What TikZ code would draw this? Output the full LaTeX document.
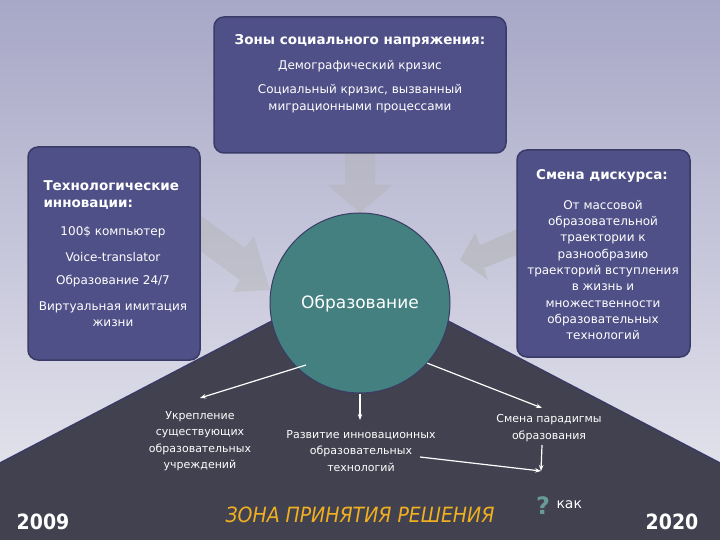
\documentclass[tikz,border=0pt]{standalone}
\usepackage{fontspec}
\setmainfont{DejaVu Sans}
\newfontfamily\condf{DejaVu Sans Condensed}
\usetikzlibrary{arrows.meta,shadows}
\definecolor{bgtop}{HTML}{A7A7C7}
\definecolor{bgbot}{HTML}{E2E2EC}
\definecolor{dark}{HTML}{41414F}
\definecolor{boxc}{HTML}{4F5087}
\definecolor{boxe}{HTML}{3A3B66}
\definecolor{teal}{HTML}{43807F}
\definecolor{ylw}{HTML}{F0B020}
\begin{document}
\begin{tikzpicture}[x=1pt,y=-1pt,
  box/.style={draw=boxe,line width=1.5pt,fill=boxc,rounded corners=10pt},
  wt/.style={text=white,font=\fontsize{12}{16}\selectfont,align=center},
  wa/.style={draw=white,line width=1.2pt,-{Stealth[length=6pt]}},
  ga/.style={fill=gray!60,opacity=0.4}]
\useasboundingbox (0,0) rectangle (720,540);
\shade[top color=bgtop,bottom color=bgbot] (0,0) rectangle (720,470);
\fill[dark] (0,463) -- (360,275) -- (720,463) -- (720,540) -- (0,540) -- cycle;
\draw[boxe,line width=1.5pt] (0,463) -- (360,275) -- (720,463);
% gray arrows
\fill[ga] (345,150) -- (375,150) -- (375,185) -- (392,185) -- (360,213) -- (328,185) -- (345,185) -- cycle;
\fill[ga] (200,215) -- (245,248) -- (254,236) -- (270,290) -- (233,292) -- (240,280) -- (195,247) -- cycle;
\fill[ga,opacity=0.5] (520,228) -- (480,245) -- (475,233) -- (460,260) -- (488,280) -- (484,268) -- (524,252) -- cycle;
% boxes
\draw[box] (214,17) rectangle (506,153);
\draw[box] (28,147) rectangle (200,360);
\draw[box] (517,150) rectangle (690,357);
\node[circle,draw=boxe,line width=1pt,fill=teal,minimum size=180pt,inner sep=0pt] (c) at (360,303) {};
\node[text=white,font=\fontsize{17}{19}\selectfont] (ct) at (360,304) {Образование};
% top text
\node[wt,font=\bfseries\fontsize{13.5}{16}\selectfont] (t1) at (360,41) {Зоны социального напряжения:};
\node[wt] (t2) at (360,66) {Демографический кризис};
\node[wt,font=\fontsize{12}{17}\selectfont] (t3) at (360,99) {Социальный кризис, вызванный\\миграционными процессами};
% left
\node[wt,align=left,anchor=west,font=\bfseries\fontsize{13.5}{17}\selectfont] (l1) at (40,195) {Технологические\\инновации:};
\node[wt] (l2) at (113,232) {100\$ компьютер};
\node[wt] (l3) at (113,257) {Voice-translator};
\node[wt] (l4) at (113,281) {Образование 24/7};
\node[wt] (l5) at (113,314) {Виртуальная имитация\\жизни};
% right
\node[wt,font=\bfseries\fontsize{13.5}{16}\selectfont] (r1) at (602,176) {Смена дискурса:};
\node[wt,font=\fontsize{12}{16.3}\selectfont] (r2) at (603,270) {От массовой\\образовательной\\траектории к\\разнообразию\\траекторий вступления\\в жизнь и\\множественности\\образовательных\\технологий};
% bottom texts
\node[wt,font=\fontsize{11}{16.5}\selectfont] (b1) at (200,441) {Укрепление\\существующих\\образовательных\\учреждений};
\node[wt,font=\fontsize{11}{16.5}\selectfont] (b2) at (361,451) {Развитие инновационных\\образовательных\\технологий};
\node[wt,font=\fontsize{11}{16.5}\selectfont] (b3) at (549,428) {Смена парадигмы\\образования};
\coordinate (p1) at (200,398);
\coordinate (p2) at (360,420);
\coordinate (p3) at (542,408);
\coordinate (q) at (541,471);
\coordinate (q0) at (420,457);
\coordinate (q1) at (542,445);
\draw[wa] (c.-135) ++(10,-2) -- (p1);
\draw[wa] (c.south) -- (p2);
\draw[wa] (c.-40) ++(-2,2) -- (p3);
\draw[wa] (q0) -- (q);
\draw[wa] (q1) -- (q);
\node[text=teal!80!white,font=\bfseries\fontsize{24}{24}\selectfont] (qm) at (543,506) {?};
\node[text=white,font=\fontsize{14}{16}\selectfont,anchor=west] (kak) at (553,505) {как};
\node[text=ylw,font=\condf\itshape\fontsize{21}{22}\selectfont] (z) at (360,515) {ЗОНА ПРИНЯТИЯ РЕШЕНИЯ};
\node[text=white,font=\condf\bfseries\fontsize{21}{22}\selectfont] (y1) at (43,522) {2009};
\node[text=white,font=\condf\bfseries\fontsize{21}{22}\selectfont] (y2) at (672,522) {2020};
\end{tikzpicture}
\end{document}
